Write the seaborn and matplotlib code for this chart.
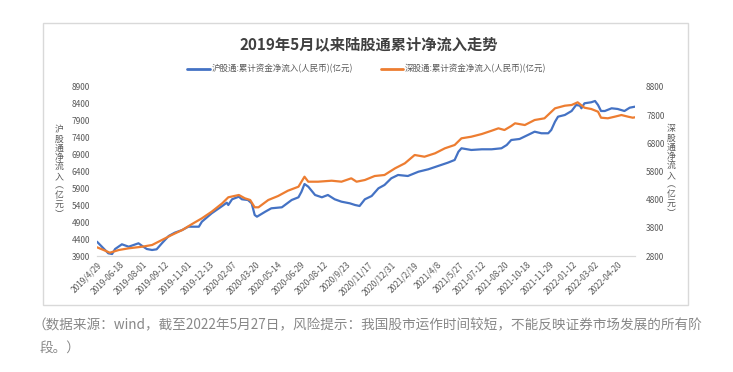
import numpy as np
import pandas as pd
import matplotlib
matplotlib.use("Agg")
import matplotlib.pyplot as plt
import seaborn as sns
from matplotlib.patches import Rectangle
from matplotlib.lines import Line2D

sns.set_theme(style="white")
plt.rcParams['font.family'] = ['Noto Sans CJK SC', 'DejaVu Sans']

# ---- data (trading-day index, value in 亿元) ----
sh_day = [0, 15, 20, 24, 33, 42, 55, 60, 66, 73, 79, 86, 95, 103, 113, 121, 135, 139,
          152, 166, 172, 174, 179, 188, 192, 200, 205, 209, 212, 223, 231, 245, 258,
          267, 271, 275, 280, 289, 298, 306, 315, 324, 335, 342, 348, 355, 364, 373,
          381, 390, 399, 412, 426, 439, 452, 465, 474, 479, 483, 496, 510, 523, 536,
          543, 549, 560, 571, 580, 589, 598, 602, 607, 611, 620, 629, 635, 640, 642,
          646, 655, 660, 664, 668, 673, 682, 690, 699, 706, 713]
sh_val = [4323, 3980, 3959, 4107, 4246, 4175, 4276, 4196, 4107, 4078, 4098, 4276,
          4492, 4589, 4669, 4767, 4767, 4915, 5163, 5380, 5477, 5409, 5578, 5655,
          5578, 5557, 5459, 5113, 5063, 5211, 5311, 5341, 5557, 5637, 5803, 6030,
          5951, 5705, 5637, 5705, 5578, 5507, 5459, 5409, 5380, 5578, 5675, 5903,
          6001, 6199, 6297, 6267, 6394, 6465, 6563, 6661, 6741, 6986, 7087, 7037,
          7057, 7057, 7087, 7184, 7332, 7362, 7480, 7578, 7531, 7531, 7628, 7874,
          8022, 8072, 8190, 8368, 8347, 8270, 8418, 8448, 8486, 8368, 8190, 8190,
          8270, 8250, 8190, 8288, 8318]

sz_day = [0, 11, 17, 29, 42, 60, 73, 86, 99, 113, 126, 139, 152, 166, 174, 188, 196,
          203, 209, 214, 227, 240, 253, 267, 275, 280, 293, 311, 324, 337, 344, 355,
          368, 381, 395, 408, 421, 434, 448, 461, 474, 483, 496, 510, 523, 532, 540,
          549, 554, 567, 580, 593, 607, 620, 629, 637, 646, 655, 664, 668, 677, 686,
          695, 704, 710, 713]
sz_val = [3109, 2988, 2917, 3013, 3073, 3130, 3191, 3368, 3546, 3723, 3936, 4138,
          4373, 4671, 4884, 4966, 4848, 4788, 4529, 4529, 4788, 4930, 5118, 5260,
          5615, 5438, 5438, 5473, 5438, 5558, 5438, 5498, 5640, 5676, 5913, 6091,
          6386, 6325, 6446, 6623, 6741, 6978, 7035, 7131, 7248, 7333, 7273, 7415,
          7511, 7450, 7628, 7688, 8043, 8136, 8161, 8256, 8065, 8019, 7923, 7710,
          7689, 7745, 7805, 7745, 7710, 7724]

x_labels = ["2019/4/29", "2019-06-18", "2019-08-01", "2019-09-12", "2019-11-01",
            "2019-12-13", "2020-02-07", "2020-03-20", "2020-05-14", "2020-06-29",
            "2020-08-12", "2020/9/23", "2020/11/17", "2020/12/31", "2021/2/19",
            "2021/4/8", "2021/5/27", "2021-07-12", "2021-08-20", "2021-10-18",
            "2021-11-29", "2022-01-12", "2022-03-02", "2022-04-20"]
label_step = 30

sh_name = "沪股通:累计资金净流入(人民币)(亿元)"
sz_name = "深股通:累计资金净流入(人民币)(亿元)"

sh_df = pd.DataFrame({"day": sh_day, "val": sh_val})
sz_df = pd.DataFrame({"day": sz_day, "val": sz_val})

BLUE = "#4472C4"
ORANGE = "#ED7D31"
GRAY = "#595959"

W, H = 733, 372
fig = plt.figure(figsize=(W / 100, H / 100), dpi=100)
fig.patch.set_facecolor("white")

# outer frame
fig.patches.append(Rectangle((43 / W, 1 - 305 / H), (688 - 43) / W, (305 - 23) / H,
                             transform=fig.transFigure, fill=False,
                             edgecolor="#D9D9D9", lw=1.0))

ax = fig.add_axes([97 / W, 1 - 256 / H, (635 - 97) / W, (256 - 87) / H])
ax2 = ax.twinx()

sns.lineplot(data=sh_df, x="day", y="val", ax=ax, color=BLUE, lw=1.6, sort=False,
             legend=False)
sns.lineplot(data=sz_df, x="day", y="val", ax=ax2, color=ORANGE, lw=1.6, sort=False,
             legend=False)

ax.set_xlim(0, max(sh_day))
ax.set_ylim(3900, 8900)
ax.set_yticks(np.arange(3900, 8901, 500))
ax2.set_ylim(2800, 8800)
ax2.set_yticks(np.arange(2800, 8801, 1000))

ax.set_xticks(np.arange(len(x_labels)) * label_step)
ax.set_xticklabels(x_labels, rotation=45, ha="right", va="top",
                   rotation_mode="anchor")
for a in (ax, ax2):
    a.set_xlabel("")
    a.set_ylabel("")
    for s in a.spines.values():
        s.set_visible(False)
    a.grid(False)
    a.set_facecolor("none")
ax.spines["bottom"].set_visible(True)
ax.spines["bottom"].set_color("#D9D9D9")
ax.spines["bottom"].set_linewidth(0.9)

ax.tick_params(axis="x", length=0, pad=3, labelsize=6, labelcolor=GRAY)
ax.tick_params(axis="y", length=0, pad=5, labelsize=6, labelcolor=GRAY)
ax2.tick_params(axis="y", length=0, pad=8, labelsize=6, labelcolor=GRAY)

# vertical axis titles (upright stacked characters)
ylab = "\n".join(list("沪股通净流入") + ["︵", "亿", "元", "︶"])
fig.text(59 / W, 1 - 172 / H, ylab, ha="center", va="center", fontsize=6.4,
         color=GRAY, linespacing=1.05)
ylab2 = "\n".join(list("深股通净流入") + ["︵", "亿", "元", "︶"])
fig.text(671 / W, 1 - 171 / H, ylab2, ha="center", va="center", fontsize=6.4,
         color=GRAY, linespacing=1.05)

# title
fig.text(369 / W, 1 - 44 / H, "2019年5月以来陆股通累计净流入走势", ha="center",
         va="center", fontsize=11, fontweight="bold", color="#404040")

# legend
handles = [Line2D([], [], color=BLUE, lw=2), Line2D([], [], color=ORANGE, lw=2)]
fig.legend(handles, [sh_name, sz_name], loc="center", bbox_to_anchor=(367 / W, 1 - 69 / H),
           ncol=2, frameon=False, fontsize=6.1, handlelength=2.6, handletextpad=0.3,
           columnspacing=3.2, labelcolor=GRAY)

# footnote
fig.text(33 / W, 1 - 325 / H,
         "（数据来源：wind，截至2022年5月27日，风险提示：我国股市运作时间较短，不能反映证券市场发展的所有阶",
         ha="left", va="center", fontsize=9.8, color="#888888")
fig.text(40 / W, 1 - 348 / H, "段。）", ha="left", va="center", fontsize=9.8,
         color="#888888")

fig.savefig("out.png", dpi=100, facecolor="white")
